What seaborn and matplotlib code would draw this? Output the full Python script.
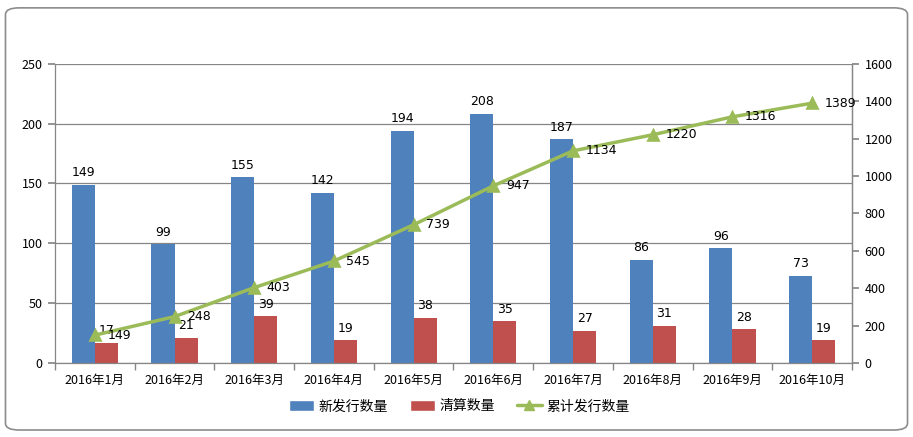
import matplotlib
matplotlib.use("Agg")
import matplotlib.pyplot as plt
import seaborn as sns
import pandas as pd
from matplotlib.patches import FancyBboxPatch
from matplotlib.lines import Line2D
from matplotlib.patches import Patch

categories = ["2016年1月", "2016年2月", "2016年3月", "2016年4月", "2016年5月",
              "2016年6月", "2016年7月", "2016年8月", "2016年9月", "2016年10月"]
new_issue = [149, 99, 155, 142, 194, 208, 187, 86, 96, 73]
cleared = [17, 21, 39, 19, 38, 35, 27, 31, 28, 19]
cumulative = [149, 248, 403, 545, 739, 947, 1134, 1220, 1316, 1389]
series_names = ["新发行数量", "清算数量", "累计发行数量"]

blue = "#4F81BD"
red = "#C0504D"
green = "#9BBB59"
gridc = "#868686"

sns.set_theme(style="white")
plt.rcParams["font.family"] = ["Noto Sans CJK SC", "DejaVu Sans"]
plt.rcParams["font.size"] = 9
plt.rcParams["text.color"] = "black"
plt.rcParams["xtick.color"] = "black"
plt.rcParams["ytick.color"] = "black"
plt.rcParams["xtick.labelcolor"] = "black"
plt.rcParams["ytick.labelcolor"] = "black"

df = pd.DataFrame({
    "month": categories * 2,
    "value": new_issue + cleared,
    "series": [series_names[0]] * len(categories) + [series_names[1]] * len(categories),
})
dline = pd.DataFrame({"month": categories, "value": cumulative})

fig = plt.figure(figsize=(9.13, 4.37), dpi=100)
ax = fig.add_axes([0.0602, 0.1693, 0.873, 0.685])

sns.barplot(data=df, x="month", y="value", hue="series", order=categories,
            hue_order=series_names[:2], palette=[blue, red], width=0.58,
            saturation=1, ax=ax, legend=False)
for p in ax.patches:
    p.set_edgecolor("none")

ax.set_ylim(0, 250)
ax.set_yticks(range(0, 251, 50))
ax.set_xlim(-0.5, len(categories) - 0.5)
ax.yaxis.grid(True, color=gridc, linewidth=0.9)
ax.set_axisbelow(True)
ax.set_xlabel("")
ax.set_ylabel("")
for s in ["left", "bottom", "right"]:
    ax.spines[s].set_color(gridc)
    ax.spines[s].set_linewidth(0.9)
ax.spines["top"].set_visible(False)
ax.tick_params(axis="y", which="major", length=5, color=gridc, direction="out",
               left=True, labelsize=9, pad=4)
ax.tick_params(axis="x", which="major", length=0, labelsize=9, pad=8)
ax.set_xticks([i - 0.5 for i in range(len(categories) + 1)], minor=True)
ax.tick_params(axis="x", which="minor", length=5, color=gridc, direction="out", bottom=True)

# bar labels
for cont in ax.containers:
    ax.bar_label(cont, labels=[f"{int(v)}" for v in cont.datavalues],
                 padding=4, fontsize=9, family=["DejaVu Sans"], color="black")

ax2 = ax.twinx()
sns.pointplot(data=dline, x="month", y="value", order=categories, color=green,
              markers="^", markersize=7, linewidth=2.5, ax=ax2)
ax2.set_ylim(0, 1600)
ax2.set_yticks(range(0, 1601, 200))
ax2.set_ylabel("")
ax2.set_xlabel("")
ax2.set_xlim(-0.5, len(categories) - 0.5)
for s in ["left", "top", "bottom"]:
    ax2.spines[s].set_visible(False)
ax2.spines["right"].set_color(gridc)
ax2.spines["right"].set_linewidth(0.9)
ax2.tick_params(axis="y", length=5, color=gridc, direction="out", right=True,
                labelsize=9, pad=4)
ax2.grid(False)
for i, v in enumerate(cumulative):
    ax2.annotate(f"{v}", (i, v), xytext=(9, 0), textcoords="offset points",
                 ha="left", va="center", fontsize=9, family=["DejaVu Sans"],
                 color="black")

handles = [Patch(facecolor=blue, label=series_names[0]),
           Patch(facecolor=red, label=series_names[1]),
           Line2D([0], [0], color=green, lw=2.5, marker="^", markersize=7,
                  label=series_names[2])]
fig.legend(handles=handles, loc="center", bbox_to_anchor=(0.503, 0.07), ncol=3,
           frameon=False, fontsize=10, handlelength=1.8, handleheight=0.8,
           columnspacing=1.6, handletextpad=0.3)

frame = FancyBboxPatch((0.006, 0.016), 0.988, 0.966, boxstyle="round,pad=0,rounding_size=0.015",
                       transform=fig.transFigure, facecolor="none", edgecolor="#8C8C8C",
                       linewidth=1.2, zorder=0)
fig.patches.append(frame)

fig.savefig("out.png", dpi=100)
